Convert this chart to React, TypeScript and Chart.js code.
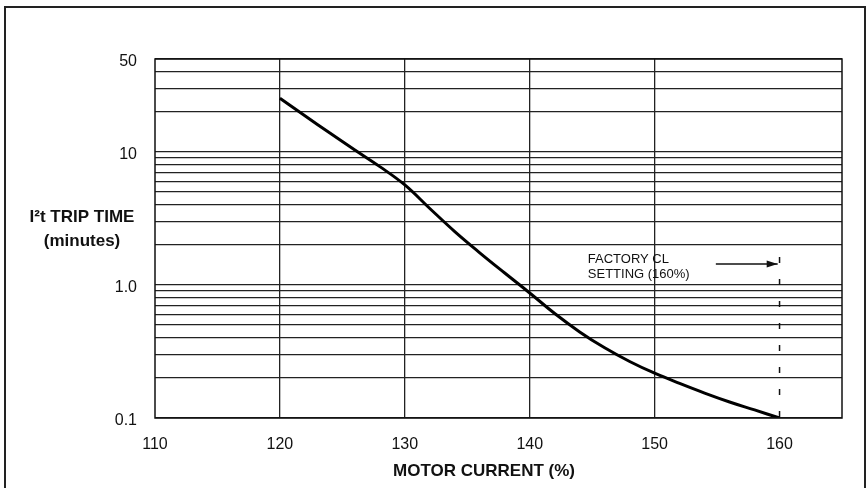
import React, { useEffect, useRef } from "react";
import { Chart, registerables } from "chart.js";

Chart.register(...registerables);

// ---- data ----
const currentPct = [120, 122, 124, 126, 128, 130, 132, 134, 136, 138, 140, 142, 144, 146, 148, 150, 152, 154, 156, 158, 160];
const tripMinutes = [25.3, 18.7, 13.87, 10.35, 7.76, 5.65, 3.76, 2.52, 1.746, 1.23, 0.871, 0.61, 0.444, 0.337, 0.266, 0.217, 0.182, 0.154, 0.132, 0.115, 0.1];

const xTicks = [110, 120, 130, 140, 150, 160];
const yTicks = [0.1, 0.2, 0.3, 0.4, 0.5, 0.6, 0.7, 0.8, 0.9, 1, 2, 3, 4, 5, 6, 7, 8, 9, 10, 20, 30, 40, 50];
const yTickLabels: Record<string, string> = { "0.1": "0.1", "1": "1.0", "10": "10", "50": "50" };

const settingX = [160, 160];
const settingY = [1.62, 0.1];
const arrowX = [154.9, 159.85];
const arrowY = [1.44, 1.44];
const noteLines = ["FACTORY CL", "SETTING (160%)"];
const noteAnchor = { x: 144.65, y: 1.6 };

const yTitleLines = ["I\u00B2t TRIP TIME", "(minutes)"];
const xTitle = "MOTOR CURRENT (%)";

const FONT = "'Liberation Sans', Arial, Helvetica, sans-serif";
const INK = "#111";

const decorPlugin = {
  id: "decor",
  beforeDraw(chart: any) {
    const { ctx } = chart;
    ctx.save();
    ctx.fillStyle = "#fff";
    ctx.fillRect(0, 0, chart.width, chart.height);
    ctx.restore();
  },
  afterDraw(chart: any) {
    const { ctx, chartArea } = chart;
    const xs = chart.scales.x;
    const ys = chart.scales.y;
    ctx.save();
    // outer border
    ctx.strokeStyle = "#222";
    ctx.lineWidth = 2;
    ctx.strokeRect(5, 7, 860, 500);
    // plot frame
    ctx.lineWidth = 1.5;
    ctx.strokeStyle = INK;
    ctx.strokeRect(chartArea.left, chartArea.top, chartArea.right - chartArea.left, chartArea.bottom - chartArea.top);
    // arrow head
    const tipX = xs.getPixelForValue(arrowX[1]);
    const tipY = ys.getPixelForValue(arrowY[1]);
    ctx.fillStyle = INK;
    ctx.beginPath();
    ctx.moveTo(tipX, tipY);
    ctx.lineTo(tipX - 11, tipY - 3.5);
    ctx.lineTo(tipX - 11, tipY + 3.5);
    ctx.closePath();
    ctx.fill();
    // note text
    ctx.fillStyle = INK;
    ctx.font = `13px ${FONT}`;
    ctx.textAlign = "left";
    ctx.textBaseline = "middle";
    const nx = xs.getPixelForValue(noteAnchor.x);
    const ny = ys.getPixelForValue(noteAnchor.y) + 2;
    noteLines.forEach((t, i) => ctx.fillText(t, nx, ny + i * 15));
    // axis titles
    ctx.font = `bold 17px ${FONT}`;
    ctx.textAlign = "center";
    ctx.fillText(xTitle, 484, 471);
    yTitleLines.forEach((t, i) => ctx.fillText(t, 82, 217 + i * 24));
    ctx.restore();
  },
};

export default function App() {
  const ref = useRef<HTMLCanvasElement | null>(null);
  useEffect(() => {
    if (!ref.current) return;
    const chart = new Chart(ref.current, {
      type: "line",
      data: {
        datasets: [
          {
            data: currentPct.map((x, i) => ({ x, y: tripMinutes[i] })),
            borderColor: "#000",
            borderWidth: 3,
            pointRadius: 0,
            tension: 0.4,
            cubicInterpolationMode: "default",
            fill: false,
          },
          {
            data: settingX.map((x, i) => ({ x, y: settingY[i] })),
            borderColor: INK,
            borderWidth: 1.5,
            borderDash: [6, 16],
            pointRadius: 0,
            fill: false,
          },
          {
            data: arrowX.map((x, i) => ({ x, y: arrowY[i] })),
            borderColor: INK,
            borderWidth: 1.5,
            pointRadius: 0,
            fill: false,
          },
        ],
      },
      options: {
        animation: false,
        responsive: true,
        maintainAspectRatio: false,
        layout: { padding: { left: 0, right: 25, top: 59, bottom: 0 } },
        plugins: { legend: { display: false }, tooltip: { enabled: false } },
        scales: {
          x: {
            type: "linear",
            min: 110,
            max: 165,
            afterBuildTicks: (scale: any) => {
              scale.ticks = xTicks.map((v) => ({ value: v }));
            },
            afterFit: (scale: any) => {
              scale.height = 70;
            },
            ticks: {
              autoSkip: false,
              maxRotation: 0,
              padding: 17,
              color: INK,
              font: { family: FONT, size: 16 },
              callback: (v: any) => String(v),
            },
            grid: {
              drawTicks: false,
              lineWidth: 1.3,
              color: (c: any) =>
                c.tick && (c.tick.value === 160 || c.tick.value === 110) ? "rgba(0,0,0,0)" : "#222",
            },
            border: { display: false },
          },
          y: {
            type: "logarithmic",
            min: 0.1,
            max: 50,
            afterBuildTicks: (scale: any) => {
              scale.ticks = yTicks.map((v) => ({ value: v }));
            },
            afterFit: (scale: any) => {
              scale.width = 155;
            },
            ticks: {
              autoSkip: false,
              padding: 18,
              labelOffset: 3,
              color: INK,
              font: { family: FONT, size: 16 },
              callback: (v: any) => yTickLabels[String(v)] ?? "",
            },
            grid: { drawTicks: false, lineWidth: 1.3, color: "#222" },
            border: { display: false },
          },
        },
      },
      plugins: [decorPlugin],
    } as any);
    return () => chart.destroy();
  }, []);
  return (
    <div style={{ position: "absolute", left: 0, top: 0, width: 867, height: 488, background: "#fff" }}>
      <canvas ref={ref} />
    </div>
  );
}
